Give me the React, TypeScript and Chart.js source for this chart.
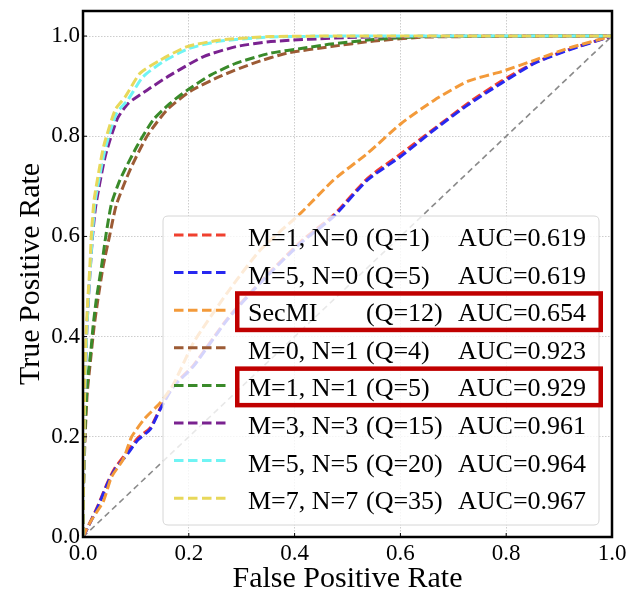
import React, { useEffect, useRef } from "react";
import { Chart, registerables } from "chart.js";

Chart.register(...registerables);

// ---------- DATA ----------
const seriesNames = ["M=1, N=0", "M=5, N=0", "SecMI", "M=0, N=1", "M=1, N=1", "M=3, N=3", "M=5, N=5", "M=7, N=7"];
const queryLabels = ["(Q=1)", "(Q=5)", "(Q=12)", "(Q=4)", "(Q=5)", "(Q=15)", "(Q=20)", "(Q=35)"];
const aucLabels = ["AUC=0.619", "AUC=0.619", "AUC=0.654", "AUC=0.923", "AUC=0.929", "AUC=0.961", "AUC=0.964", "AUC=0.967"];
const seriesColors = ["#f0402f", "#2828f0", "#f39a3a", "#9c5b35", "#3a8a2a", "#7a2290", "#70f4f4", "#e8d85a"];
const highlightedRows = [2, 4];

const fprRed = [0, 0.01, 0.028, 0.047, 0.06, 0.085, 0.104, 0.127, 0.146, 0.171, 0.209, 0.273, 0.336, 0.412, 0.474, 0.538, 0.601, 0.664, 0.728, 0.791, 0.854, 0.918, 1];
const tprRed = [0, 0.022, 0.062, 0.11, 0.137, 0.172, 0.198, 0.218, 0.257, 0.302, 0.343, 0.436, 0.51, 0.59, 0.643, 0.716, 0.765, 0.815, 0.866, 0.91, 0.947, 0.973, 1];

const fprBlue = [0, 0.01, 0.028, 0.047, 0.06, 0.085, 0.104, 0.127, 0.146, 0.171, 0.209, 0.273, 0.336, 0.412, 0.474, 0.538, 0.601, 0.664, 0.728, 0.791, 0.854, 0.918, 1];
const tprBlue = [0, 0.021, 0.06, 0.108, 0.134, 0.167, 0.194, 0.215, 0.255, 0.3, 0.341, 0.434, 0.508, 0.587, 0.64, 0.713, 0.76, 0.813, 0.863, 0.906, 0.946, 0.972, 1];

const fprSecMI = [0, 0.007, 0.016, 0.038, 0.054, 0.076, 0.092, 0.117, 0.146, 0.171, 0.209, 0.273, 0.336, 0.412, 0.474, 0.538, 0.602, 0.664, 0.728, 0.791, 0.854, 0.918, 1];
const tprSecMI = [0, 0.016, 0.034, 0.07, 0.12, 0.155, 0.2, 0.237, 0.268, 0.305, 0.388, 0.488, 0.574, 0.647, 0.713, 0.766, 0.826, 0.872, 0.91, 0.929, 0.952, 0.976, 1];

const fprBrown = [0, 0.001, 0.004, 0.008, 0.013, 0.021, 0.028, 0.038, 0.05, 0.063, 0.089, 0.121, 0.159, 0.203, 0.26, 0.323, 0.386, 0.469, 0.55, 0.65, 1];
const tprBrown = [0, 0.1, 0.2, 0.287, 0.34, 0.42, 0.473, 0.54, 0.6, 0.663, 0.733, 0.8, 0.853, 0.89, 0.92, 0.946, 0.966, 0.979, 0.99, 0.998, 1];

const fprGreen = [0, 0.001, 0.003, 0.007, 0.01, 0.015, 0.019, 0.025, 0.035, 0.044, 0.054, 0.07, 0.102, 0.133, 0.165, 0.197, 0.241, 0.29, 0.355, 0.418, 0.469, 0.55, 0.65, 1];
const tprGreen = [0, 0.1, 0.2, 0.287, 0.327, 0.373, 0.42, 0.473, 0.54, 0.607, 0.666, 0.713, 0.78, 0.833, 0.866, 0.892, 0.922, 0.946, 0.966, 0.976, 0.984, 0.993, 0.999, 1];

const fprPurple = [0, 0.001, 0.003, 0.005, 0.007, 0.01, 0.014, 0.018, 0.024, 0.042, 0.065, 0.086, 0.121, 0.165, 0.228, 0.29, 0.355, 0.5, 0.7, 1];
const tprPurple = [0, 0.1, 0.28, 0.34, 0.407, 0.473, 0.54, 0.6, 0.66, 0.76, 0.835, 0.866, 0.892, 0.922, 0.959, 0.979, 0.989, 0.997, 1, 1];

const fprCyan = [0, 0.001, 0.003, 0.005, 0.007, 0.01, 0.014, 0.018, 0.023, 0.041, 0.063, 0.085, 0.113, 0.15, 0.2, 0.26, 0.355, 0.5, 1];
const tprCyan = [0, 0.1, 0.28, 0.34, 0.407, 0.473, 0.54, 0.607, 0.67, 0.77, 0.845, 0.873, 0.918, 0.948, 0.975, 0.99, 0.998, 1, 1];

const fprYellow = [0, 0.001, 0.003, 0.004, 0.006, 0.009, 0.013, 0.016, 0.021, 0.03, 0.039, 0.061, 0.08, 0.108, 0.146, 0.197, 0.26, 0.355, 0.5, 1];
const tprYellow = [0, 0.1, 0.287, 0.34, 0.407, 0.473, 0.54, 0.607, 0.673, 0.73, 0.78, 0.853, 0.879, 0.926, 0.952, 0.979, 0.992, 0.999, 1, 1];

const fprChance = [0, 1];
const tprChance = [0, 1];

const seriesFpr = [fprRed, fprBlue, fprSecMI, fprBrown, fprGreen, fprPurple, fprCyan, fprYellow];
const seriesTpr = [tprRed, tprBlue, tprSecMI, tprBrown, tprGreen, tprPurple, tprCyan, tprYellow];

const xTicks = [0, 0.2, 0.4, 0.6, 0.8, 1.0];
const yTicks = [0, 0.2, 0.4, 0.6, 0.8, 1.0];
const xTickLabels = ["0.0", "0.2", "0.4", "0.6", "0.8", "1.0"];
const yTickLabels = ["0.0", "0.2", "0.4", "0.6", "0.8", "1.0"];
const xTitle = "False Positive Rate";
const yTitle = "True Positive Rate";

// ---------- STYLE ----------
const FONT = "'Liberation Serif', 'Times New Roman', serif";
const LINE_W = 3;
const DASH = [9.5, 4];

const toPoints = (xs: number[], ys: number[]) => xs.map((x, i) => ({ x, y: ys[i] }));

const overlayPlugin = {
  id: "overlay",
  afterDatasetsDraw(chart: any) {
    const ctx = chart.ctx as CanvasRenderingContext2D;
    const a = chart.chartArea;
    const xs = chart.scales.x;
    const ys = chart.scales.y;
    ctx.save();

    // inward tick marks
    ctx.strokeStyle = "#000";
    ctx.lineWidth = 1;
    ctx.setLineDash([]);
    xTicks.forEach((v) => {
      const px = xs.getPixelForValue(v);
      ctx.beginPath();
      ctx.moveTo(px, a.bottom);
      ctx.lineTo(px, a.bottom - 4);
      ctx.stroke();
    });
    yTicks.forEach((v) => {
      const py = ys.getPixelForValue(v);
      ctx.beginPath();
      ctx.moveTo(a.left, py);
      ctx.lineTo(a.left + 4, py);
      ctx.stroke();
    });

    // legend
    const lx = a.left + 80;
    const ly = a.top + 205;
    const lw = 436;
    const lh = 309;
    const r = 5;
    ctx.beginPath();
    ctx.moveTo(lx + r, ly);
    ctx.lineTo(lx + lw - r, ly);
    ctx.quadraticCurveTo(lx + lw, ly, lx + lw, ly + r);
    ctx.lineTo(lx + lw, ly + lh - r);
    ctx.quadraticCurveTo(lx + lw, ly + lh, lx + lw - r, ly + lh);
    ctx.lineTo(lx + r, ly + lh);
    ctx.quadraticCurveTo(lx, ly + lh, lx, ly + lh - r);
    ctx.lineTo(lx, ly + r);
    ctx.quadraticCurveTo(lx, ly, lx + r, ly);
    ctx.closePath();
    ctx.fillStyle = "rgba(255,255,255,0.8)";
    ctx.fill();
    ctx.strokeStyle = "#d6d6d6";
    ctx.lineWidth = 1;
    ctx.stroke();

    const row0 = a.top + 226;
    const step = 37.6;
    ctx.font = `26px ${FONT}`;
    ctx.textBaseline = "alphabetic";
    ctx.textAlign = "left";
    seriesNames.forEach((name, i) => {
      const cy = row0 + step * i;
      ctx.strokeStyle = seriesColors[i];
      ctx.lineWidth = LINE_W;
      ctx.setLineDash([9.5, 4.5]);
      ctx.beginPath();
      ctx.moveTo(a.left + 91, cy - 2);
      ctx.lineTo(a.left + 144, cy - 2);
      ctx.stroke();
      ctx.setLineDash([]);
      ctx.fillStyle = "#000";
      ctx.fillText(name, a.left + 165, cy + 9);
      ctx.fillText(queryLabels[i], a.left + 283, cy + 9);
      ctx.fillText(aucLabels[i], a.left + 375, cy + 9);
    });

    // highlight boxes
    ctx.strokeStyle = "#c00000";
    ctx.lineWidth = 4.5;
    highlightedRows.forEach((i) => {
      const cy = row0 + step * i;
      const x0 = a.left + 152;
      const x1 = a.left + 520;
      const y0 = cy - 21;
      const y1 = cy + 20;
      ctx.strokeRect(x0 + 2.25, y0 + 2.25, x1 - x0 - 4.5, y1 - y0 - 4.5);
    });

    // frame
    ctx.strokeStyle = "#000";
    ctx.lineWidth = 2.5;
    ctx.strokeRect(a.left, a.top, a.right - a.left, a.bottom - a.top);
    ctx.restore();
  },
};

export default function App() {
  const ref = useRef<HTMLCanvasElement | null>(null);
  useEffect(() => {
    if (!ref.current) return;
    const datasets: any[] = seriesNames.map((name, i) => ({
      label: name,
      data: toPoints(seriesFpr[i], seriesTpr[i]),
      borderColor: seriesColors[i],
      borderWidth: LINE_W,
      borderDash: DASH,
      pointRadius: 0,
      fill: false,
      tension: 0.2,
      order: 20 - i,
    }));
    datasets.push({
      label: "chance",
      data: toPoints(fprChance, tprChance),
      borderColor: "#8a8a8a",
      borderWidth: 1.6,
      borderDash: [6, 4],
      pointRadius: 0,
      fill: false,
      order: 30,
    });
    const chart = new Chart(ref.current, {
      type: "line",
      data: { datasets },
      plugins: [overlayPlugin],
      options: {
        animation: false,
        responsive: false,
        devicePixelRatio: 1,
        layout: { padding: { top: 11, right: 19, left: 0, bottom: 0 } },
        plugins: { legend: { display: false }, tooltip: { enabled: false } },
        scales: {
          x: {
            type: "linear",
            min: 0,
            max: 1,
            afterBuildTicks: (s: any) => {
              s.ticks = xTicks.map((v) => ({ value: v }));
            },
            afterFit: (s: any) => {
              s.height = 54;
              s.paddingLeft = 0;
              s.paddingRight = 0;
            },
            ticks: {
              callback: (_v: any, i: number) => xTickLabels[i],
              color: "#000",
              font: { family: FONT, size: 23 },
              padding: 3,
              maxRotation: 0,
              autoSkip: false,
            },
            grid: { color: "rgba(0,0,0,0.22)", lineWidth: 0.9, drawTicks: false },
            border: { display: false, dash: [1.5, 1.5] },
            title: {
              display: true,
              text: xTitle,
              color: "#000",
              font: { family: FONT, size: 30, lineHeight: 0.8 },
              padding: { top: 0, bottom: 0 },
            },
          },
          y: {
            type: "linear",
            min: 0,
            max: 1.05,
            afterBuildTicks: (s: any) => {
              s.ticks = yTicks.map((v) => ({ value: v }));
            },
            afterFit: (s: any) => {
              s.width = 83;
              s.paddingTop = 0;
              s.paddingBottom = 0;
            },
            ticks: {
              callback: (_v: any, i: number) => yTickLabels[i],
              color: "#000",
              font: { family: FONT, size: 23 },
              padding: 3,
              autoSkip: false,
            },
            grid: { color: "rgba(0,0,0,0.22)", lineWidth: 0.9, drawTicks: false },
            border: { display: false, dash: [1.5, 1.5] },
            title: {
              display: true,
              text: yTitle,
              color: "#000",
              font: { family: FONT, size: 30, lineHeight: 1 },
              padding: { top: 16, bottom: 0 },
            },
          },
        },
      },
    });
    return () => chart.destroy();
  }, []);
  return (
    <div style={{ position: "fixed", left: 0, top: 0, width: 631, height: 591, background: "#fff" }}>
      <canvas ref={ref} width={631} height={591} style={{ display: "block" }} />
    </div>
  );
}
